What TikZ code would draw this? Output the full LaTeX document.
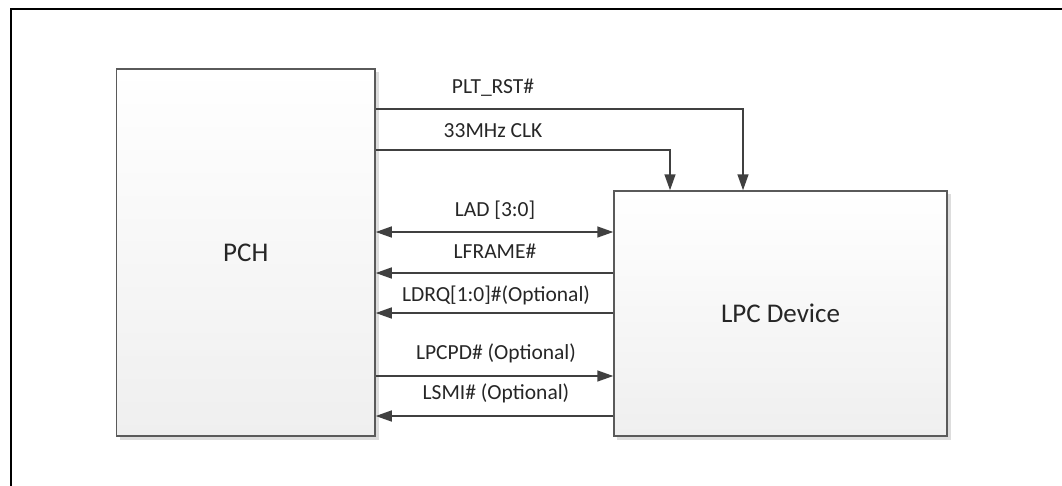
\documentclass[tikz,border=0pt]{standalone}
\usepackage{fontspec}
\setmainfont{Carlito}
\usetikzlibrary{arrows.meta}
\definecolor{linegray}{HTML}{404040}
\definecolor{boxedge}{HTML}{5A5A5A}
\definecolor{boxbot}{HTML}{EFEFEF}
\definecolor{shadowgray}{HTML}{DDDDDD}
\definecolor{textgray}{HTML}{262626}
\begin{document}
\begin{tikzpicture}[x=1pt,y=-1pt,
  box/.style={draw=boxedge, line width=1.5pt, top color=white, bottom color=boxbot,
    inner sep=0pt, font=\fontsize{27}{30}\selectfont, text=textgray},
  sig/.style={draw=linegray, line width=1.5pt},
  tipto/.style={sig, -{Triangle[length=16pt,width=11pt]}},
  tipboth/.style={sig, {Triangle[length=16pt,width=11pt]}-{Triangle[length=16pt,width=11pt]}},
  lbl/.style={font=\fontsize{21.5}{24}\selectfont, text=textgray, inner sep=0pt}]
\useasboundingbox (0,0) rectangle (1062,485);
% outer frame (cropped)
\draw[black, line width=2pt] (11,486) -- (11,9) -- (1063,9);
% shadows
\fill[shadowgray] (119.5,72) rectangle (378.5,439.5);
\fill[shadowgray] (617,194) rectangle (950.5,439.5);
% boxes
\node[box, minimum width=258.5pt, minimum height=367pt] (pch) at (245.75,252.5) {PCH};
\node[box, minimum width=333pt, minimum height=245pt] (lpc) at (780.5,313.5) {LPC Device};
% coordinates for routing
\coordinate (rstx) at (743,0);
\coordinate (clkx) at (670,0);
\coordinate (yrst) at (0,109);
\coordinate (yclk) at (0,150);
\coordinate (ylad) at (0,232);
\coordinate (yfrm) at (0,273);
\coordinate (ydrq) at (0,313);
\coordinate (ypd) at (0,376);
\coordinate (ysmi) at (0,416);
% connectors
\draw[tipto] (pch.east |- yrst) -| (lpc.north -| rstx);
\draw[tipto] (pch.east |- yclk) -| (lpc.north -| clkx);
\draw[tipboth] (pch.east |- ylad) -- (lpc.west |- ylad);
\draw[tipto] (lpc.west |- yfrm) -- (pch.east |- yfrm);
\draw[tipto] (lpc.west |- ydrq) -- (pch.east |- ydrq);
\draw[tipto] (pch.east |- ypd) -- (lpc.west |- ypd);
\draw[tipto] (lpc.west |- ysmi) -- (pch.east |- ysmi);
% labels
\node[lbl] (lrst) at (493,88) {PLT\_RST\#};
\node[lbl] (lclk) at (493,131) {33MHz CLK};
\node[lbl] (llad) at (495,210) {LAD [3:0]};
\node[lbl] (lfrm) at (495,251) {LFRAME\#};
\node[lbl] (ldrq) at (496,295) {LDRQ[1:0]\#(Optional)};
\node[lbl] (lpd) at (496,353) {LPCPD\# (Optional)};
\node[lbl] (lsmi) at (496,393) {LSMI\# (Optional)};
\end{tikzpicture}
\end{document}
